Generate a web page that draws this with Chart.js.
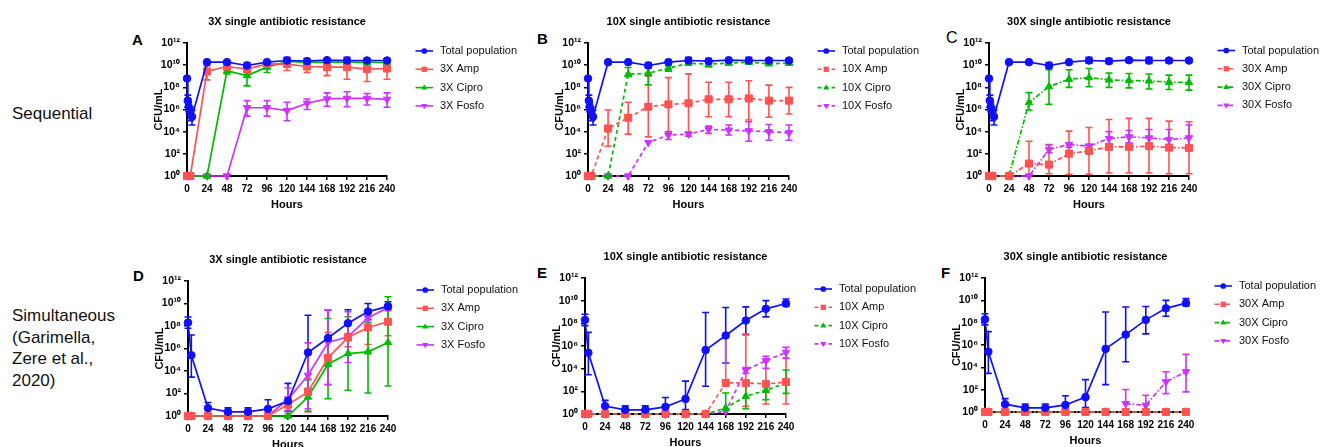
<!DOCTYPE html>
<html>
<head>
<meta charset="utf-8">
<script src="https://cdn.jsdelivr.net/npm/chart.js@4.4.1/dist/chart.umd.min.js"></script>
<style>
  html, body { margin: 0; padding: 0; background: #fff; }
  body { width: 1321px; height: 447px; position: relative; overflow: hidden; font-family: "Liberation Sans", Arial, sans-serif; }
  canvas { position: absolute; }
  .row { position: absolute; left: 12px; font-size: 17px; line-height: 21.5px; color: #111; }
  .tag { position: absolute; font-size: 15px; line-height: 17px; font-weight: bold; color: #000; }
</style>
</head>
<body>
<div class="row" style="top:103px">Sequential</div>
<div class="row" style="top:305px">Simultaneous<br>(Garimella,<br>Zere et al.,<br>2020)</div>
<div class="tag" style="left:132px;top:31px">A</div>
<div class="tag" style="left:537px;top:30px">B</div>
<div class="tag" style="left:946px;top:29px;font-weight:normal;font-size:16px">C</div>
<div class="tag" style="left:133px;top:267px">D</div>
<div class="tag" style="left:537px;top:264px">E</div>
<div class="tag" style="left:941px;top:264px">F</div>

<script>
// sampling times (hours)
const seqHours = [0, 1, 2, 4, 6, 24, 48, 72, 96, 120, 144, 168, 192, 216, 240];
const hours = [0, 4, 24, 48, 72, 96, 120, 144, 168, 192, 216, 240];
const xTicks = [0, 24, 48, 72, 96, 120, 144, 168, 192, 216, 240];
const yTickPowers = [0, 2, 4, 6, 8, 10, 12];
const yTickLabels = ['10⁰', '10²', '10⁴', '10⁶', '10⁸', '10¹⁰', '10¹²'];

// all values are log10 CFU/mL; Lo/Hi = error bar ends
const seqTotal   = [8.8, 6.8, 6.25, 5.8, 5.35, 10.27, 10.27, 9.97, 10.27, 10.42, 10.36, 10.45, 10.42, 10.42, 10.42];
const seqTotalLo = [null, 6.2, 5.8, 5.0, 4.6, null, null, 9.73, null, 10.18, 10.15, 10.3, 10.15, 10.2, 10.3];
const seqTotalHi = [null, 7.3, 6.6, 6.2, 5.95, null, null, 10.24, null, 10.72, 10.6, 10.6, 10.72, 10.6, 10.55];

const aAmp     = [0, 0, 9.43, 9.88, 9.64, 10.12, 10.09, 9.88, 9.82, 9.82, 9.64, 9.7];
const aAmpLo   = [null, null, 8.67, 9.6, 9.35, 9.9, 9.52, 9.34, 9.06, 8.73, 8.52, 8.73];
const aAmpHi   = [null, null, 9.94, 10.12, 9.94, 10.33, 10.48, 10.33, 10.33, 10.33, 10.27, 10.18];
const aCipro   = [0, 0, 0, 9.49, 9.06, 9.82, 10.33, 10.24, 10.27, 10.27, 10.27, 10.24];
const aCiproLo = [null, null, null, 9.2, 8.13, 9.34, 10.15, 10.05, 10.1, 10.1, 10.1, 10.0];
const aCiproHi = [null, null, null, 9.65, 9.58, 10.03, 10.5, 10.4, 10.4, 10.4, 10.4, 10.45];
const aFosfo   = [0, 0, 0, 0, 6.16, 6.16, 5.9, 6.56, 6.95, 7.0, 7.0, 6.92];
const aFosfoLo = [null, null, null, null, 5.4, 5.4, 4.98, 6.0, 6.3, 6.25, 6.4, 6.2];
const aFosfoHi = [null, null, null, null, 6.8, 6.8, 6.65, 6.95, 7.5, 7.6, 7.45, 7.5];

const bAmp     = [0, 0, 4.29, 5.26, 6.25, 6.46, 6.56, 6.92, 6.92, 7.0, 6.8, 6.8];
const bAmpLo   = [null, null, 2.69, 3.78, 3.53, 3.93, 3.93, 5.35, 5.35, 5.05, 5.3, 5.6];
const bAmpHi   = [null, null, 5.95, 6.65, 9.0, 8.88, 9.21, 8.46, 8.46, 8.6, 8.2, 8.0];
const bCipro   = [0, 0, 0, 9.18, 9.27, 9.73, 10.18, 10.09, 10.18, 10.27, 10.12, 10.18];
const bCiproLo = [null, null, null, 8.97, 8.22, 9.45, 10.0, 9.85, 10.05, 10.1, 10.0, 10.0];
const bCiproHi = [null, null, null, 9.79, 9.88, 9.95, 10.35, 10.3, 10.3, 10.45, 10.3, 10.35];
const bFosfo   = [0, 0, 0, 0, 3.02, 3.69, 3.78, 4.2, 4.14, 4.08, 3.99, 3.9];
const bFosfoLo = [null, null, null, null, null, 3.3, 3.6, 3.85, 3.7, 3.14, 3.23, 3.23];
const bFosfoHi = [null, null, null, null, null, 4.0, 3.95, 4.5, 4.6, 4.89, 4.65, 4.6];

const cAmp     = [0, 0, 0, 1.12, 1.03, 2.02, 2.27, 2.63, 2.63, 2.69, 2.57, 2.54];
const cAmpLo   = [null, null, null, 0, 0.2, 0.15, 0.15, 0.27, 0.27, 0.27, 0.2, 0.2];
const cAmpHi   = [null, null, null, 3.14, 2.84, 4.05, 4.38, 5.1, 5.2, 5.2, 4.95, 4.9];
const cCipro   = [0, 0, 0, 6.62, 8.07, 8.73, 8.88, 8.67, 8.61, 8.58, 8.46, 8.43];
const cCiproLo = [null, null, null, 5.95, 6.46, 8.0, 8.05, 8.0, 7.95, 7.85, 7.8, 7.75];
const cCiproHi = [null, null, null, 7.52, 9.58, 9.58, 9.7, 9.3, 9.25, 9.2, 9.1, 9.1];
const cFosfo   = [0, 0, 0, 0, 2.39, 2.84, 2.69, 3.38, 3.53, 3.44, 3.29, 3.44];
const cFosfoLo = [null, null, null, null, 2.1, 2.6, 2.5, 2.9, 3.0, 2.6, 2.3, 2.3];
const cFosfoHi = [null, null, null, null, 2.8, 3.0, 2.85, 4.0, 4.1, 4.2, 4.2, 4.6];

const simTotal   = [8.3, 5.4, 0.7, 0.37, 0.37, 0.63, 1.33, 5.65, 6.93, 8.25, 9.28, 9.75];
const simTotalLo = [7.8, 3.46, 0.2, 0.1, 0.1, 0.1, 0.4, 2.45, 4.5, 7.0, 8.57, 9.5];
const simTotalHi = [8.8, 7.2, 1.2, 0.72, 0.72, 1.45, 2.9, 8.95, 9.4, 9.45, 10.0, 10.15];

const dAmp     = [0, 0, 0, 0, 0, 0, 1.01, 2.14, 5.17, 6.98, 7.87, 8.38];
const dAmpLo   = [null, null, null, null, null, null, 0.2, 0.36, 2.79, 6.15, 6.36, 7.13];
const dAmpHi   = [null, null, null, null, null, null, 1.69, 3.33, 7.42, 7.33, 8.82, 9.71];
const dCipro   = [0, 0, 0, 0, 0, 0, 0, 1.69, 4.6, 5.55, 5.7, 6.53];
const dCiproLo = [null, null, null, null, null, null, null, 0.45, 1.54, 2.29, 2.05, 2.67];
const dCiproHi = [null, null, null, null, null, null, null, 3.2, 8.67, 8.82, 8.32, 10.6];
const dFosfo   = [0, 0, 0, 0, 0, 0, 1.48, 3.62, 6.53, 7.04, 8.73, 9.62];
const dFosfoLo = [null, null, null, null, null, null, 0.5, 0.65, 2.79, 4.75, 8.1, 9.35];
const dFosfoHi = [null, null, null, null, null, null, 2.49, 6.5, 9.41, 9.27, 9.15, 9.9];

const eAmp     = [0, 0, 0, 0, 0, 0, 0, 0, 2.74, 2.74, 2.65, 2.82];
const eAmpLo   = [null, null, null, null, null, null, null, null, null, 0.68, 0.88, 0.88];
const eAmpHi   = [null, null, null, null, null, null, null, null, 7.06, 7.06, 4.65, 4.94];
const eCipro   = [0, 0, 0, 0, 0, 0, 0, 0, 0.53, 1.56, 2.09, 2.74];
const eCiproLo = [null, null, null, null, null, null, null, null, null, 0.47, 1.27, 1.82];
const eCiproHi = [null, null, null, null, null, null, null, null, 1.85, 2.65, 2.6, 3.88];
const eFosfo   = [0, 0, 0, 0, 0, 0, 0, 0, 0.24, 3.88, 4.71, 5.44];
const eFosfoLo = [null, null, null, null, null, null, null, null, null, 3.6, 4.03, 4.91];
const eFosfoHi = [null, null, null, null, null, null, null, null, null, 4.1, 5.09, 5.88];

const fAmp     = [0, 0, 0, 0, 0, 0, 0, 0, 0, 0, 0, 0];
const fCipro   = [0, 0, 0, 0, 0, 0, 0, 0, 0, 0, 0, 0];
const fFosfo   = [null, null, null, null, null, null, null, null, 0.75, 0.6, 2.7, 3.6];
const fFosfoLo = [null, null, null, null, null, null, null, null, null, null, 1.65, 1.8];
const fFosfoHi = [null, null, null, null, null, null, null, null, 2.01, 1.5, 3.6, 5.16];

const FAMILY = '"Liberation Sans", Arial, sans-serif';
Chart.defaults.font.family = FAMILY;
Chart.defaults.color = '#000';

const BLUE = '#1010ff', RED = '#ff5252', GREEN = '#00bb00', MAGENTA = '#cc33ff';
const SOLID = [], DASHED = [4, 3], DASHDOT = [5, 2, 1.5, 2];

function drawMarker(ctx, style, rot, r, x, y) {
  ctx.beginPath();
  if (style === 'circle') {
    ctx.arc(x, y, r, 0, Math.PI * 2);
  } else if (style === 'rect') {
    const s = r * Math.SQRT1_2;
    ctx.rect(x - s, y - s, 2 * s, 2 * s);
  } else {
    const dir = rot === 180 ? -1 : 1;
    ctx.moveTo(x, y - dir * r);
    ctx.lineTo(x + r * 0.95, y + dir * r * 0.6);
    ctx.lineTo(x - r * 0.95, y + dir * r * 0.6);
    ctx.closePath();
  }
  ctx.fill();
}

const errorBars = {
  id: 'errorBars',
  beforeDatasetsDraw(chart) {
    const { ctx } = chart;
    const xs = chart.scales.x, ys = chart.scales.y;
    ctx.save();
    chart.data.datasets.forEach(ds => {
      if (!ds.errLo) return;
      ctx.strokeStyle = ds.borderColor;
      ctx.lineWidth = 1.6;
      ctx.setLineDash([]);
      ds.data.forEach((p, i) => {
        if (p.y == null) return;
        const lo = ds.errLo[i], hi = ds.errHi[i];
        if (lo == null && hi == null) return;
        const px = xs.getPixelForValue(p.x);
        const py = ys.getPixelForValue(p.y);
        const yLo = lo == null ? py : ys.getPixelForValue(Math.pow(10, lo));
        const yHi = hi == null ? py : ys.getPixelForValue(Math.pow(10, hi));
        ctx.beginPath();
        ctx.moveTo(px, yLo);
        ctx.lineTo(px, yHi);
        if (lo != null) { ctx.moveTo(px - 3.5, yLo); ctx.lineTo(px + 3.5, yLo); }
        if (hi != null) { ctx.moveTo(px - 3.5, yHi); ctx.lineTo(px + 3.5, yHi); }
        ctx.stroke();
      });
    });
    ctx.restore();
  }
};

const sideLegend = {
  id: 'sideLegend',
  afterDraw(chart, args, opts) {
    const { ctx, chartArea } = chart;
    ctx.save();
    chart.data.datasets.forEach((ds, i) => {
      const y = chartArea.top + opts.top + i * 18.3;
      const x0 = chartArea.right + 28.5, x1 = chartArea.right + 46;
      ctx.strokeStyle = ds.borderColor;
      ctx.fillStyle = ds.borderColor;
      ctx.lineWidth = 1.6;
      ctx.setLineDash(ds.borderDash);
      ctx.beginPath();
      ctx.moveTo(x0, y);
      ctx.lineTo(x1, y);
      ctx.stroke();
      ctx.setLineDash([]);
      drawMarker(ctx, ds.pointStyle, ds.pointRotation, ds.pointRadius * 0.75, (x0 + x1) / 2, y);
      ctx.fillStyle = '#111';
      ctx.font = '11px ' + FAMILY;
      ctx.textBaseline = 'middle';
      ctx.textAlign = 'left';
      ctx.fillText(ds.label, chartArea.right + 53, y);
    });
    ctx.restore();
  }
};

function series(label, color, style, rot, radius, xs, vals, lo, hi, dash) {
  return {
    label: label,
    data: xs.map((x, i) => ({ x: x, y: vals[i] == null ? null : Math.pow(10, vals[i]) })),
    errLo: lo || null,
    errHi: hi || null,
    borderColor: color,
    backgroundColor: color,
    pointBackgroundColor: color,
    pointBorderColor: color,
    borderWidth: 1.7,
    borderDash: dash,
    pointStyle: style,
    pointRotation: rot,
    pointRadius: radius,
    pointBorderWidth: 1,
    tension: 0,
    clip: false
  };
}

function panel(left, top, w, h, title, dose, dash, legendTop, total, sets) {
  const cv = document.createElement('canvas');
  const cw = 60 + w + 150, ch = 35 + h + 40;
  cv.width = cw; cv.height = ch;
  cv.style.left = (left - 60) + 'px';
  cv.style.top = (top - 35) + 'px';
  cv.style.width = cw + 'px';
  cv.style.height = ch + 'px';
  document.body.appendChild(cv);

  const datasets = [
    series('Total population', BLUE, 'circle', 0, 3.8, total[0], total[1], total[2], total[3], SOLID),
    series(dose + ' Amp', RED, 'rect', 0, 5, hours, sets[0][0], sets[0][1], sets[0][2], dash),
    series(dose + ' Cipro', GREEN, 'triangle', 0, 4.3, hours, sets[1][0], sets[1][1], sets[1][2], dash),
    series(dose + ' Fosfo', MAGENTA, 'triangle', 180, 4.3, hours, sets[2][0], sets[2][1], sets[2][2], dash)
  ];

  const tickFont = { size: 10, weight: 'bold', family: FAMILY };
  const titleFont = { size: 11, weight: 'bold', family: FAMILY };

  new Chart(cv, {
    type: 'line',
    data: { datasets: datasets },
    options: {
      responsive: false,
      animation: false,
      events: [],
      layout: { padding: { left: 0, top: 0, right: 150, bottom: 0 } },
      plugins: {
        legend: { display: false },
        tooltip: { enabled: false },
        title: {
          display: true, text: title, fullSize: false, color: '#000',
          font: titleFont, padding: { top: 7.4, bottom: 14.4 }
        },
        sideLegend: { top: legendTop }
      },
      scales: {
        x: {
          type: 'linear', min: 0, max: 240,
          afterBuildTicks: s => { s.ticks = xTicks.map(v => ({ value: v })); },
          afterFit: s => { s.height = 40; },
          ticks: { font: tickFont, color: '#000', padding: 3, maxRotation: 0, autoSkip: false },
          grid: { drawOnChartArea: false, tickLength: 4, color: '#000', lineWidth: 1.5 },
          border: { color: '#000', width: 2 },
          title: { display: true, text: 'Hours', color: '#000', font: titleFont, padding: { top: 0, bottom: 4.4 } }
        },
        y: {
          type: 'logarithmic', min: 1, max: 1e12,
          afterBuildTicks: s => { s.ticks = yTickPowers.map(p => ({ value: Math.pow(10, p) })); },
          afterFit: s => { s.width = 60; },
          ticks: { font: { size: 10.5, weight: 'bold', family: FAMILY }, color: '#000', padding: 3, autoSkip: false, callback: (v, i) => yTickLabels[i] },
          grid: { drawOnChartArea: false, tickLength: 4, color: '#000', lineWidth: 1.5 },
          border: { color: '#000', width: 2 },
          title: { display: true, text: 'CFU/mL', color: '#000', font: titleFont, padding: { top: 25.4, bottom: 0 } }
        }
      }
    },
    plugins: [errorBars, sideLegend]
  });
}

const seqT = [seqHours, seqTotal, seqTotalLo, seqTotalHi];
const simT = [hours, simTotal, simTotalLo, simTotalHi];

panel(187, 43, 200, 133, '3X single antibiotic resistance', '3X', SOLID, 8, seqT,
  [[aAmp, aAmpLo, aAmpHi], [aCipro, aCiproLo, aCiproHi], [aFosfo, aFosfoLo, aFosfoHi]]);
panel(588, 43, 201, 133, '10X single antibiotic resistance', '10X', DASHED, 8, seqT,
  [[bAmp, bAmpLo, bAmpHi], [bCipro, bCiproLo, bCiproHi], [bFosfo, bFosfoLo, bFosfoHi]]);
panel(989, 43, 200, 133, '30X single antibiotic resistance', '30X', DASHDOT, 7.5, seqT,
  [[cAmp, cAmpLo, cAmpHi], [cCipro, cCiproLo, cCiproHi], [cFosfo, cFosfoLo, cFosfoHi]]);
panel(188, 281, 200, 135, '3X single antibiotic resistance', '3X', SOLID, 9, simT,
  [[dAmp, dAmpLo, dAmpHi], [dCipro, dCiproLo, dCiproHi], [dFosfo, dFosfoLo, dFosfoHi]]);
panel(585, 278, 201, 136, '10X single antibiotic resistance', '10X', DASHED, 11, simT,
  [[eAmp, eAmpLo, eAmpHi], [eCipro, eCiproLo, eCiproHi], [eFosfo, eFosfoLo, eFosfoHi]]);
panel(985, 278, 201, 134, '30X single antibiotic resistance', '30X', DASHDOT, 8, simT,
  [[fAmp, null, null], [fCipro, null, null], [fFosfo, fFosfoLo, fFosfoHi]]);
</script>
</body>
</html>
